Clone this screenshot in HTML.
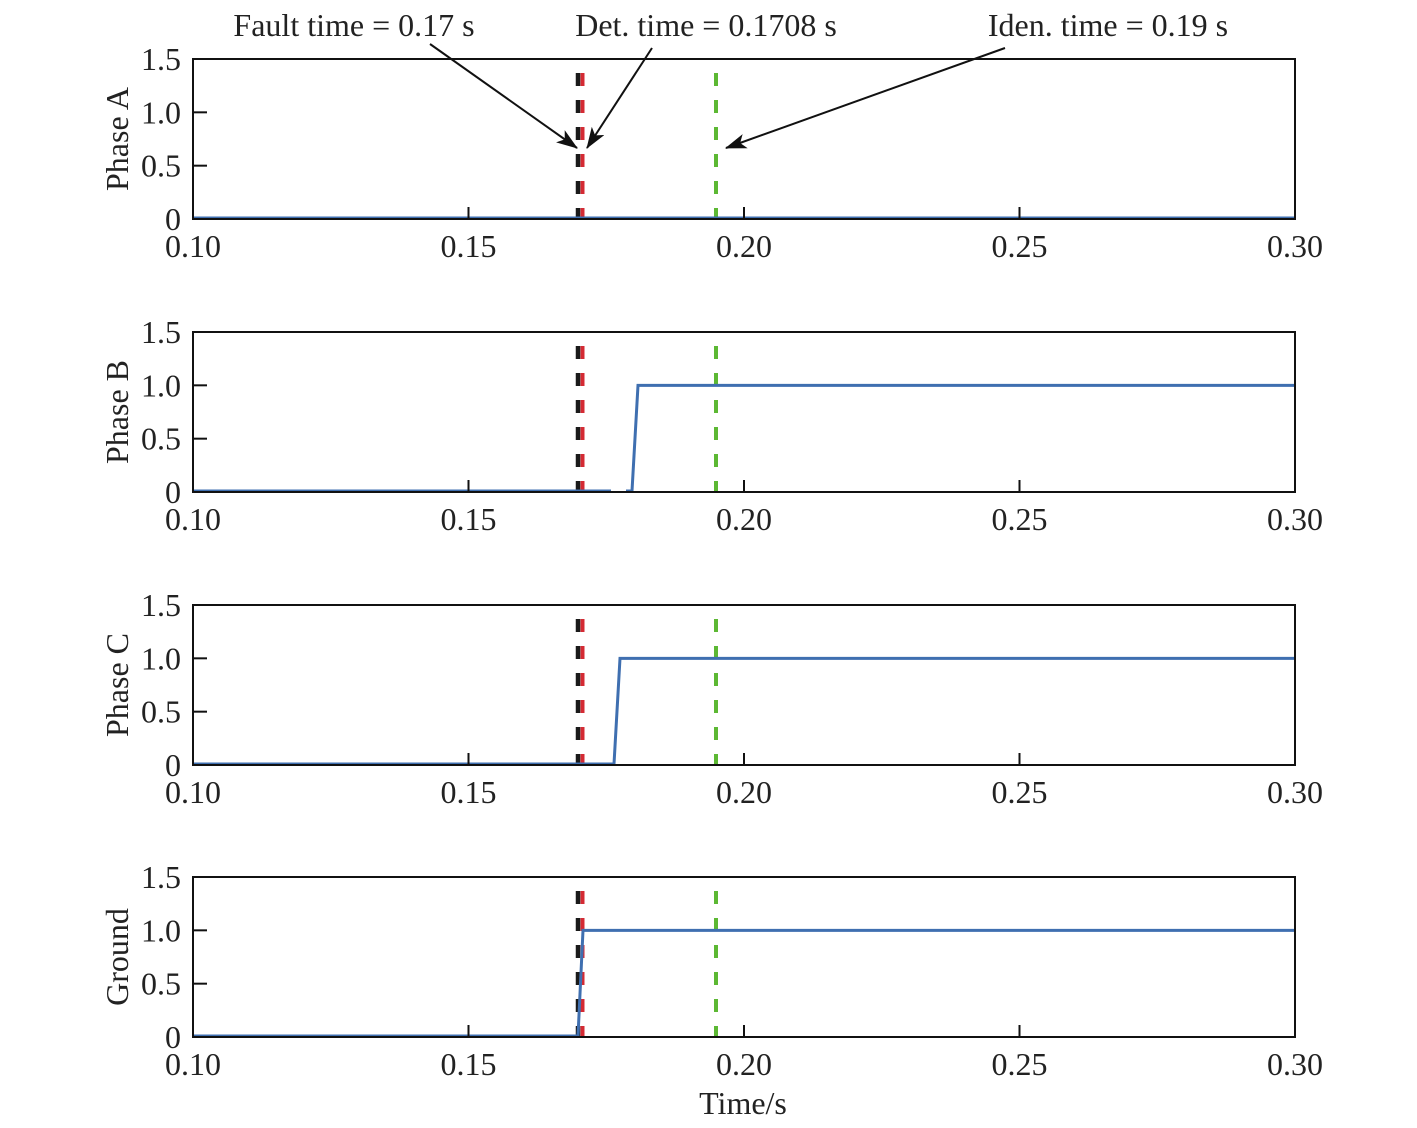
<!DOCTYPE html>
<html><head><meta charset="utf-8"><style>body{margin:0;background:#fff}svg{display:block}text{font-family:"Liberation Serif",serif;fill:#222}</style></head>
<body>
<svg id="s" width="1417" height="1128" xmlns="http://www.w3.org/2000/svg">
<defs>
<marker id="ar2" viewBox="0 0 20 14" refX="19" refY="7" markerWidth="22" markerHeight="15" markerUnits="userSpaceOnUse" orient="auto"><path d="M0,0 L20,7 L0,14 L5,7 z" fill="#111"/></marker></defs>
<text x="354" y="36" font-size="32" text-anchor="middle">Fault time = 0.17 s</text>
<text x="706" y="36" font-size="32" text-anchor="middle">Det. time = 0.1708 s</text>
<text x="1108" y="36" font-size="32" text-anchor="middle">Iden. time = 0.19 s</text>
<line x1="430" y1="44" x2="577" y2="148" stroke="#111" stroke-width="2" marker-end="url(#ar2)"/>
<line x1="652" y1="48" x2="587" y2="148" stroke="#111" stroke-width="2" marker-end="url(#ar2)"/>
<line x1="1005" y1="48" x2="726" y2="148" stroke="#111" stroke-width="2" marker-end="url(#ar2)"/>
<text x="743" y="1114" font-size="32" text-anchor="middle">Time/s</text>
</svg>
<script>
const s=document.getElementById('s');const NS='http://www.w3.org/2000/svg';
function el(t,a,txt){const e=document.createElementNS(NS,t);for(const k in a)e.setAttribute(k,a[k]);if(txt!==undefined)e.textContent=txt;s.appendChild(e);return e;}
const X=v=>193+(v-0.1)*5510;
const tops=[59,332,605,877],names=['Phase A','Phase B','Phase C','Ground'];
const series=[null,[[193,0],[611,0],[611,null],[626,null],[626,0],[632,0],[638,1],[1295,1]],[[193,0],[614,0],[620,1],[1295,1]],[[193,0],[578,0],[583,1],[1295,1]]];
tops.forEach((t,i)=>{const b=t+160,Y=v=>b-v*160/1.5;
 el('line',{x1:578,y1:t+14,x2:578,y2:b,stroke:'#1a1a1a','stroke-width':4.5,'stroke-dasharray':'13 14'});
 el('line',{x1:582.5,y1:t+14,x2:582.5,y2:b,stroke:'#d42a33','stroke-width':4,'stroke-dasharray':'13 14'});
 el('line',{x1:716,y1:t+14,x2:716,y2:b,stroke:'#5cb833','stroke-width':4,'stroke-dasharray':'13 14'});
 if(!series[i]){el('line',{x1:193,y1:b-1,x2:1295,y2:b-1,stroke:'#3f6fb0','stroke-width':3});}
 else{let d='',pen=false;series[i].forEach(([x,v])=>{if(v===null){pen=false;return;}d+=(pen?'L':'M')+x+','+(v===0?b-1:Y(v))+' ';pen=true;});
 el('path',{d:d,fill:'none',stroke:'#3f6fb0','stroke-width':3});}
 el('rect',{x:193,y:t,width:1102,height:160,fill:'none',stroke:'#111','stroke-width':2});
 [0.15,0.2,0.25].forEach(v=>{el('line',{x1:X(v),y1:b,x2:X(v),y2:b-12,stroke:'#111','stroke-width':2});});
 [0.5,1.0].forEach(v=>{el('line',{x1:193,y1:Y(v),x2:207,y2:Y(v),stroke:'#111','stroke-width':2});});
 ['0','0.5','1.0','1.5'].forEach((l,k)=>el('text',{x:181,y:Y(k*0.5)+11,'font-size':32,'text-anchor':'end'},l));
 ['0.10','0.15','0.20','0.25','0.30'].forEach((l,k)=>el('text',{x:X(0.1+k*0.05),y:b+38,'font-size':32,'text-anchor':'middle'},l));
 el('text',{x:0,y:0,'font-size':32,'text-anchor':'middle',transform:`translate(128,${t+80}) rotate(-90)`},names[i]);
});
</script>
</body></html>
